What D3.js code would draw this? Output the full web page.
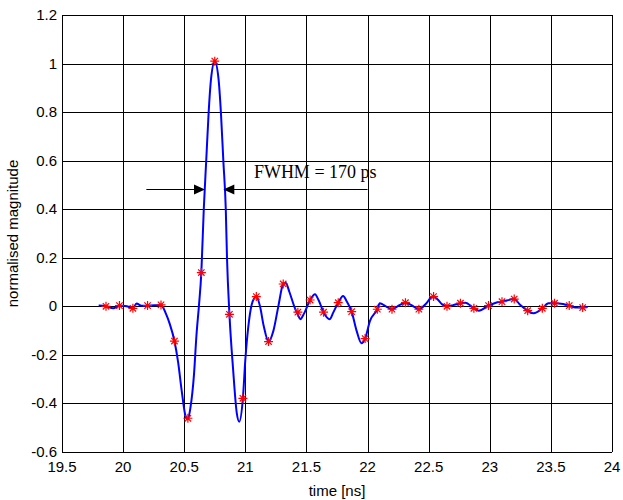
<!DOCTYPE html>
<html lang="en">
<head>
  <meta charset="utf-8">
  <title>Pulse – normalised magnitude</title>
  <script src="https://d3js.org/d3.v7.min.js"></script>
  <style>
    body { margin: 0; background: #fff; }
    svg { display: block; }
    .tick-label { font-family: Arial, "Liberation Sans", sans-serif; font-size: 15px; fill: #000; }
    .axis-title { font-family: Arial, "Liberation Sans", sans-serif; font-size: 15px; fill: #000; }
    .note { font-family: "Times New Roman", "Liberation Serif", serif; font-size: 18px; fill: #000; }
  </style>
</head>
<body>
<svg id="chart"></svg>
<script>

  // continuous trace
  var curveT = [19.80, 19.86, 19.92, 19.97, 20.03, 20.08, 20.11, 20.15, 20.20, 20.26,
                20.31, 20.35, 20.38, 20.42, 20.45, 20.48, 20.51, 20.53, 20.55, 20.58,
                20.60, 20.62, 20.64, 20.66, 20.68, 20.70, 20.72, 20.75, 20.78, 20.80,
                20.82, 20.84, 20.85, 20.87, 20.90, 20.93, 20.95, 20.98, 21.00, 21.03,
                21.06, 21.09, 21.12, 21.15, 21.19, 21.23, 21.27, 21.31, 21.33, 21.36,
                21.40, 21.43, 21.45, 21.48, 21.53, 21.57, 21.60, 21.64, 21.69, 21.72,
                21.76, 21.80, 21.83, 21.87, 21.91, 21.95, 21.98, 22.02, 22.08, 22.10,
                22.15, 22.20, 22.26, 22.31, 22.36, 22.42, 22.48, 22.53, 22.57, 22.61,
                22.65, 22.70, 22.76, 22.80, 22.87, 22.91, 22.99, 23.05, 23.10, 23.20,
                23.25, 23.31, 23.36, 23.43, 23.48, 23.53, 23.60, 23.65, 23.70, 23.76,
                23.80];
  var curveV = [0.003, 0.000, -0.008, 0.003, 0.000, -0.008, 0.012, 0.002, 0.003, 0.004,
                0.006, -0.030, -0.070, -0.143, -0.230, -0.350, -0.450, -0.465, -0.420, -0.280,
                -0.120, 0.000, 0.139, 0.400, 0.600, 0.800, 0.940, 1.010, 0.940, 0.800,
                0.600, 0.400, 0.200, -0.033, -0.260, -0.440, -0.475, -0.379, -0.220, -0.060,
                0.020, 0.040, 0.000, -0.080, -0.145, -0.100, 0.000, 0.092, 0.097, 0.060,
                0.000, -0.035, -0.053, -0.030, 0.026, 0.050, 0.025, -0.024, -0.053, -0.025,
                0.015, 0.043, 0.020, -0.022, -0.100, -0.152, -0.133, -0.060, -0.012, 0.013,
                0.000, -0.012, 0.005, 0.015, 0.005, -0.012, 0.012, 0.040, 0.030, 0.008,
                0.000, 0.005, 0.013, 0.015, -0.008, -0.018, 0.003, 0.015, 0.019, 0.030,
                0.005, -0.018, -0.029, -0.008, 0.013, 0.013, 0.010, 0.003, -0.005, -0.005,
                -0.003];

  // sampled points (red stars)
  var sampleT = [19.86, 19.97, 20.08, 20.20, 20.31, 20.42, 20.53, 20.64, 20.75, 20.87,
                 20.98, 21.09, 21.19, 21.31, 21.43, 21.53, 21.64, 21.76, 21.87, 21.98,
                 22.08, 22.20, 22.31, 22.42, 22.54, 22.65, 22.76, 22.87, 22.99, 23.10,
                 23.20, 23.31, 23.43, 23.53, 23.65, 23.76];
  var sampleV = [0.000, 0.003, -0.008, 0.003, 0.006, -0.143, -0.461, 0.139, 1.010, -0.033,
                 -0.379, 0.040, -0.145, 0.092, -0.024, 0.026, -0.024, 0.015, -0.022, -0.133,
                 -0.012, -0.012, 0.015, -0.012, 0.040, 0.000, 0.013, -0.008, 0.003, 0.019,
                 0.030, -0.018, -0.008, 0.013, 0.003, -0.005];

  var xTicks = [19.5, 20, 20.5, 21, 21.5, 22, 22.5, 23, 23.5, 24];
  var yTicks = [-0.6, -0.4, -0.2, 0, 0.2, 0.4, 0.6, 0.8, 1, 1.2];

  var width = 623, height = 500;
  var margin = {top: 15, right: 11, bottom: 48, left: 62};

  var svg = d3.select('#chart')
    .attr('width', width)
    .attr('height', height);

  var x = d3.scaleLinear().domain([19.5, 24]).range([margin.left, width - margin.right]);
  var y = d3.scaleLinear().domain([-0.6, 1.2]).range([height - margin.bottom, margin.top]);

  var snap = function(v) { return Math.round(v) + 0.5; };

  // grid
  var grid = svg.append('g').attr('stroke', '#000').attr('stroke-width', 1);
  grid.selectAll('.vgrid').data(xTicks).enter().append('line')
    .attr('x1', function(d) { return snap(x(d)); })
    .attr('x2', function(d) { return snap(x(d)); })
    .attr('y1', y(1.2)).attr('y2', y(-0.6));
  grid.selectAll('.hgrid').data(yTicks).enter().append('line')
    .attr('y1', function(d) { return snap(y(d)); })
    .attr('y2', function(d) { return snap(y(d)); })
    .attr('x1', x(19.5)).attr('x2', x(24));

  // tick labels
  svg.selectAll('.xlab').data(xTicks).enter().append('text')
    .attr('class', 'tick-label')
    .attr('x', function(d) { return x(d); })
    .attr('y', y(-0.6) + 20)
    .attr('text-anchor', 'middle')
    .text(function(d) { return d3.format('')(d); });

  svg.selectAll('.ylab').data(yTicks).enter().append('text')
    .attr('class', 'tick-label')
    .attr('x', x(19.5) - 5)
    .attr('y', function(d) { return y(d) + 5; })
    .attr('text-anchor', 'end')
    .text(function(d) { return d3.format('')(d).replace('−', '-'); });

  // axis titles
  svg.append('text')
    .attr('class', 'axis-title')
    .attr('x', (x(19.5) + x(24)) / 2)
    .attr('y', height - 4)
    .attr('text-anchor', 'middle')
    .text('time [ns]');

  svg.append('text')
    .attr('class', 'axis-title')
    .attr('transform', 'translate(18,' + (y(-0.6) + y(1.2)) / 2 + ') rotate(-90)')
    .attr('text-anchor', 'middle')
    .text('normalised magnitude');

  // trace
  var line = d3.line()
    .x(function(d) { return x(d[0]); })
    .y(function(d) { return y(d[1]); })
    .curve(d3.curveMonotoneX);

  svg.append('path')
    .datum(d3.zip(curveT, curveV))
    .attr('fill', 'none')
    .attr('stroke', '#0000ff')
    .attr('stroke-width', 2)
    .attr('d', line);

  // star markers
  var star = 'M-4.5,0H4.5M0,-4.5V4.5M-3.2,-3.2L3.2,3.2M-3.2,3.2L3.2,-3.2';
  svg.selectAll('.star').data(d3.zip(sampleT, sampleV)).enter().append('path')
    .attr('transform', function(d) { return 'translate(' + x(d[0]) + ',' + y(d[1]) + ')'; })
    .attr('d', star)
    .attr('fill', 'none')
    .attr('stroke', '#ff0000')
    .attr('stroke-width', 1.2);

  // FWHM annotation
  var arrowY = snap(y(0.483));
  var ann = svg.append('g').attr('stroke', '#000').attr('stroke-width', 1);
  ann.append('line').attr('x1', x(20.19)).attr('x2', x(20.60)).attr('y1', arrowY).attr('y2', arrowY);
  ann.append('line').attr('x1', x(20.90)).attr('x2', x(22.00)).attr('y1', arrowY).attr('y2', arrowY);
  var tipL = x(20.67), tipR = x(20.82);
  svg.append('path')
    .attr('d', 'M' + tipL + ',' + arrowY + 'L' + (tipL - 11) + ',' + (arrowY - 5) + 'L' + (tipL - 11) + ',' + (arrowY + 5) + 'Z')
    .attr('fill', '#000');
  svg.append('path')
    .attr('d', 'M' + tipR + ',' + arrowY + 'L' + (tipR + 11) + ',' + (arrowY - 5) + 'L' + (tipR + 11) + ',' + (arrowY + 5) + 'Z')
    .attr('fill', '#000');

  svg.append('text')
    .attr('class', 'note')
    .attr('x', x(21.07))
    .attr('y', y(0.529))
    .text('FWHM = 170 ps');

</script>
</body>
</html>
